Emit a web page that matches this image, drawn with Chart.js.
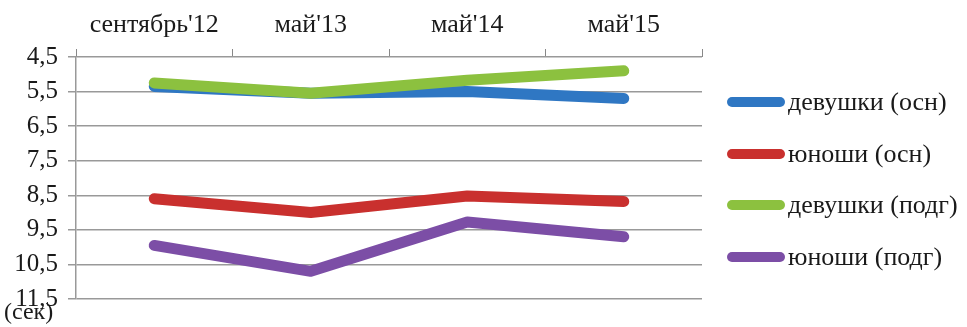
<!DOCTYPE html>
<html>
<head>
<meta charset="utf-8">
<script src="https://cdn.jsdelivr.net/npm/chart.js@4/dist/chart.umd.min.js"></script>
<style>
  html, body { margin: 0; padding: 0; background: #fff; }
  #wrap { position: relative; width: 967px; height: 327px; font-family: "Times New Roman", "Liberation Serif", serif; color: #1a1a1a; }
  #unit { position: absolute; left: 4px; top: 297px; font-size: 24px; line-height: 28px; }
  #leyenda { position: absolute; left: 727px; top: 0; }
  .item { position: absolute; left: 0; height: 30px; display: flex; align-items: center; white-space: nowrap; font-size: 26px; }
  .muestra { width: 58px; height: 10px; border-radius: 5px; margin-right: 3px; }
</style>
</head>
<body>
<div id="wrap">
  <canvas id="grafico" width="967" height="327"></canvas>
  <div id="unit">(сек)</div>
  <div id="leyenda"></div>
</div>
<script>
// datos del gráfico
const categorias = ["сентябрь'12", "май'13", "май'14", "май'15"];
const nombres = ["девушки (осн)", "юноши (осн)", "девушки (подг)", "юноши (подг)"];
const devushkiOsn = [5.35, 5.55, 5.5, 5.7];
const yunoshiOsn = [8.6, 9.0, 8.52, 8.68];
const devushkiPodg = [5.25, 5.55, 5.17, 4.9];
const yunoshiPodg = [9.95, 10.7, 9.27, 9.7];
const marcasY = [4.5, 5.5, 6.5, 7.5, 8.5, 9.5, 10.5, 11.5];
const colores = ["#2f77c3", "#c9302e", "#8cc13f", "#7c4ea6"];

const fuente = '"Times New Roman", "Liberation Serif", serif';
const series = [devushkiOsn, yunoshiOsn, devushkiPodg, yunoshiPodg];
const orden = [1, 1, 0, 1];

// leyenda a la derecha
let leyenda = document.getElementById("leyenda");
nombres.forEach((n, i) => {
    let item = document.createElement("div");
    item.className = "item";
    item.style.top = (87 + i * 51.7) + "px";
    item.innerHTML = '<span class="muestra" style="background:' + colores[i] + '"></span>' + n;
    leyenda.appendChild(item);
});

let ctx = document.getElementById("grafico").getContext("2d");

new Chart(ctx, {
    type: "line",
    data: {
        labels: categorias,
        datasets: series.map((d, i) => ({
            label: nombres[i],
            data: d,
            borderColor: colores[i],
            backgroundColor: colores[i],
            borderWidth: 11,
            borderCapStyle: "round",
            borderJoinStyle: "round",
            pointRadius: 0,
            tension: 0,
            order: orden[i]
        }))
    },
    options: {
        responsive: false,
        animation: false,
        layout: { padding: { left: 0, top: 0, right: 265, bottom: 28 } },
        scales: {
            x: {
                position: "top",
                offset: true,
                grid: { offset: true, drawOnChartArea: false, color: "#888", tickLength: 8 },
                border: { display: false },
                ticks: { color: "#1a1a1a", font: { family: fuente, size: 26 }, padding: 8 },
                afterFit: function(scale) { scale.height = 57; }
            },
            y: {
                reverse: true,
                min: 4.5,
                max: 11.5,
                afterBuildTicks: function(scale) {
                    scale.ticks = marcasY.map(v => ({ value: v }));
                },
                grid: { color: "#999", lineWidth: 1.5, tickLength: 8 },
                border: { color: "#999", width: 1.5 },
                ticks: {
                    color: "#1a1a1a",
                    font: { family: fuente, size: 25 },
                    padding: 10,
                    callback: function(v) { return String(v).replace(".", ","); }
                },
                afterFit: function(scale) { scale.width = 76; }
            }
        },
        plugins: {
            tooltip: { enabled: false },
            legend: { display: false }
        }
    }
});
</script>
</body>
</html>
